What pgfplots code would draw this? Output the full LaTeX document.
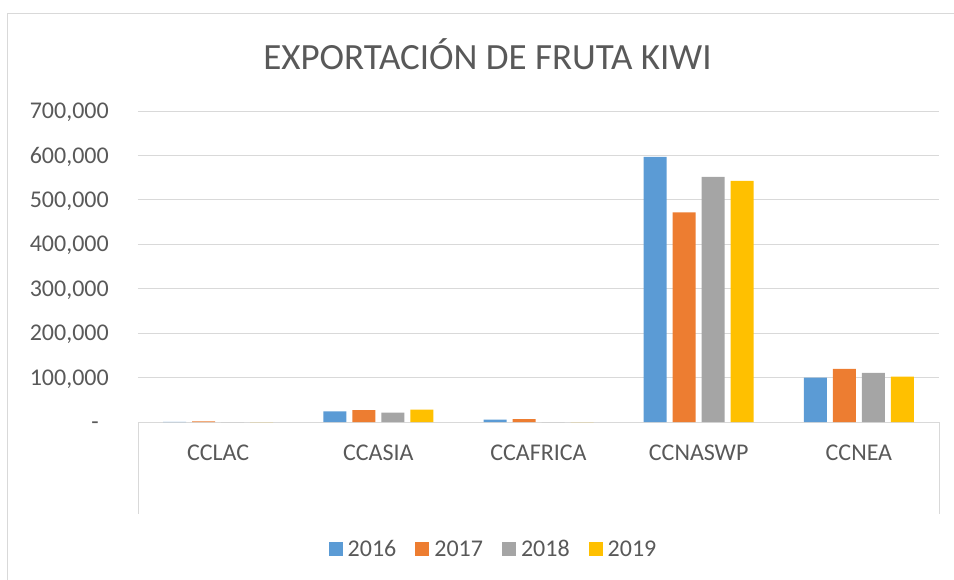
\documentclass[border=0pt]{standalone}
\usepackage{fontspec}
\setmainfont{Carlito}
\usepackage{pgfplots}
\usepackage{pgfplotstable}
\pgfplotsset{compat=1.18}

\definecolor{cA}{HTML}{5B9BD5}
\definecolor{cB}{HTML}{ED7D31}
\definecolor{cC}{HTML}{A5A5A5}
\definecolor{cD}{HTML}{FFC000}
\definecolor{txt}{HTML}{595959}
\definecolor{gridc}{HTML}{D9D9D9}

% exportaciones por region
\pgfplotstableread{
x  y2016  y2017  y2018  y2019
0  200    1500   0      0
1  24000  26500  21000  28000
2  5500   6500   0      0
3  597000 471700 551800 542700
4  100000 119700 110600 102200
}\datos

\begin{document}
\begin{tikzpicture}
\useasboundingbox (-138bp,-158bp) rectangle (816bp,422bp);
% marco exterior del grafico
\draw[gridc, line width=1bp] (-130bp,-170bp) -- (-130bp,408.5bp) -- (830bp,408.5bp);

\node[anchor=base, font=\fontsize{37bp}{40bp}\selectfont, text=txt]
  at (349.5bp,352bp) {EXPORTACIÓN DE FRUTA KIWI};

\begin{axis}[
    at={(0,0)}, anchor=south west,
    scale only axis,
    width=801bp, height=311bp,
    xmin=-0.5, xmax=4.5,
    ymin=0, ymax=700000,
    ybar=6bp, bar width=23bp,
    axis line style={draw=none},
    major tick length=0pt,
    xtick={0,1,2,3,4},
    xticklabels={CCLAC,CCASIA,CCAFRICA,CCNASWP,CCNEA},
    ytick={0,100000,200000,300000,400000,500000,600000,700000},
    yticklabels={{-\kern10bp},{100,000},{200,000},{300,000},{400,000},{500,000},{600,000},{700,000}},
    scaled y ticks=false,
    ymajorgrids=true,
    grid style={gridc, line width=1bp},
    ticklabel style={font=\fontsize{24bp}{28bp}\selectfont, text=txt},
    yticklabel style={anchor=base east, inner sep=0pt, xshift=-29bp, yshift=-7.6bp},
    xticklabel style={anchor=base, inner sep=0pt, yshift=-38bp},
    legend columns=4,
    legend image code/.code={\fill[#1] (0bp,-7bp) rectangle (14bp,7bp);},
    legend style={
        draw=none, fill=none,
        at={(0.4426,-0.408)}, anchor=center,
        font=\fontsize{24bp}{28bp}\selectfont, text=txt,
        nodes={inner sep=0pt, text height=15bp, text depth=0pt},
        /tikz/every odd column/.append style={column sep=5bp},
        /tikz/every even column/.append style={column sep=19bp},
    },
]
\addplot[fill=cA, draw=none] table[x=x, y=y2016] {\datos};
\addplot[fill=cB, draw=none] table[x=x, y=y2017] {\datos};
\addplot[fill=cC, draw=none] table[x=x, y=y2018] {\datos};
\addplot[fill=cD, draw=none] table[x=x, y=y2019] {\datos};
\legend{2016,2017,2018,2019}
\end{axis}

% lineas del eje de categorias
\draw[gridc, line width=1bp] (0bp,0bp) -- (0bp,-92bp);
\draw[gridc, line width=1bp] (801bp,0bp) -- (801bp,-92bp);
\end{tikzpicture}
\end{document}
